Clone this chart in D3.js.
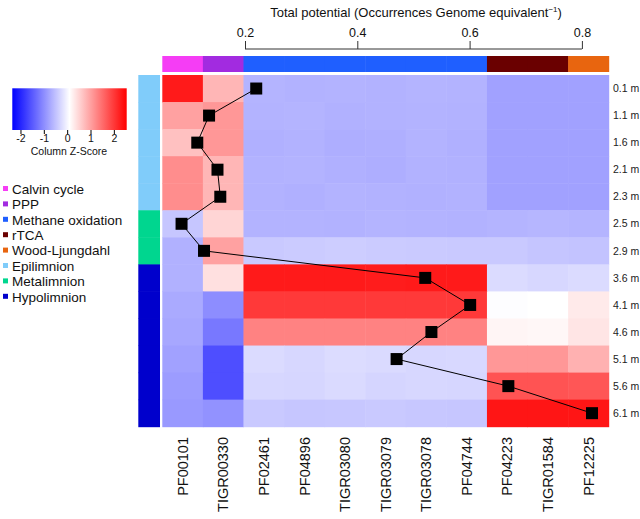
<!DOCTYPE html>
<html><head><meta charset="utf-8">
<script src="https://cdn.jsdelivr.net/npm/d3@7"></script>
<style>body{margin:0;background:#fff}svg{display:block;font-family:"Liberation Sans",Arial,sans-serif}</style>
</head><body>
<script>
const genes = ["PF00101","TIGR00330","PF02461","PF04896","TIGR03080","TIGR03079","TIGR03078","PF04744","PF04223","TIGR01584","PF12225"];
const pathwayOfGene = ["Calvin cycle","PPP","Methane oxidation","Methane oxidation","Methane oxidation","Methane oxidation","Methane oxidation","Methane oxidation","rTCA","rTCA","Wood-Ljungdahl"];
const depths = ["0.1 m","1.1 m","1.6 m","2.1 m","2.3 m","2.5 m","2.9 m","3.6 m","4.1 m","4.6 m","5.1 m","5.6 m","6.1 m"];
const layerOfDepth = ["Epilimnion","Epilimnion","Epilimnion","Epilimnion","Epilimnion","Metalimnion","Metalimnion","Hypolimnion","Hypolimnion","Hypolimnion","Hypolimnion","Hypolimnion","Hypolimnion"];
const pathways = ["Calvin cycle","PPP","Methane oxidation","rTCA","Wood-Ljungdahl"];
const pathwayColors = ["#f53df5","#a22be0","#1f5fff","#6a0000","#e8650f"];
const layers = ["Epilimnion","Metalimnion","Hypolimnion"];
const layerColors = ["#80ccfa","#00d68f","#0000cc"];
// Column Z-scores, one row per depth, one value per gene
const zscores = [
 [ 2.30, 0.80,-0.62,-0.64,-0.63,-0.64,-0.62,-0.63,-0.80,-0.80,-0.80],
 [ 1.00, 1.10,-0.63,-0.62,-0.65,-0.64,-0.63,-0.64,-0.80,-0.80,-0.80],
 [ 0.70, 1.10,-0.66,-0.64,-0.68,-0.67,-0.63,-0.66,-0.80,-0.80,-0.80],
 [ 1.20, 0.80,-0.64,-0.63,-0.66,-0.68,-0.64,-0.65,-0.80,-0.80,-0.80],
 [ 1.20, 0.80,-0.64,-0.66,-0.63,-0.64,-0.65,-0.64,-0.80,-0.80,-0.80],
 [-0.45, 0.50,-0.63,-0.63,-0.64,-0.62,-0.63,-0.64,-0.62,-0.60,-0.62],
 [-0.65, 1.00,-0.42,-0.40,-0.38,-0.40,-0.41,-0.42,-0.42,-0.46,-0.48],
 [-0.65, 0.40, 2.30, 2.30, 2.30, 2.28, 2.30, 2.30,-0.25,-0.28,-0.25],
 [-0.72,-1.00, 2.00, 2.00, 2.00, 2.00, 2.00, 2.00, 0.08, 0.10, 0.30],
 [-0.75,-1.20, 1.30, 1.30, 1.30, 1.30, 1.30, 1.30, 0.20, 0.18, 0.35],
 [-0.80,-1.60,-0.25,-0.28,-0.24,-0.26,-0.28,-0.27, 1.10, 1.10, 0.85],
 [-0.85,-1.60,-0.28,-0.29,-0.26,-0.30,-0.28,-0.29, 1.75, 1.75, 1.72],
 [-0.88,-0.95,-0.42,-0.45,-0.44,-0.42,-0.44,-0.45, 2.35, 2.35, 2.35]
];
const totalPotential = [0.220,0.136,0.115,0.151,0.156,0.087,0.127,0.521,0.601,0.532,0.470,0.669,0.818];
const axisTicks = [0.2,0.4,0.6,0.8];
const keyTicks = [-2,-1,0,1,2];

const W=640,H=519;
const svg=d3.select("body").append("svg").attr("width",W).attr("height",H);

const x=d3.scaleBand().domain(genes).range([162.3,608.7]).padding(0);
const y=d3.scaleBand().domain(depths).range([75,426.7]).padding(0);
const zMin=-2.35,zMid=0.1,zMax=2.55;
const color=d3.scaleLinear().domain([zMin,zMid,zMax]).range(["#0000ff","#ffffff","#ff0000"]).clamp(true);
const pColor=d3.scaleOrdinal().domain(pathways).range(pathwayColors);
const lColor=d3.scaleOrdinal().domain(layers).range(layerColors);
const xv=d3.scaleLinear().domain([0,0.8]).range([132.7,581.9]);

// heatmap cells
const cells=[];
zscores.forEach((row,i)=>row.forEach((v,j)=>cells.push({d:depths[i],g:genes[j],v})));
svg.append("g").selectAll("rect").data(cells).join("rect")
 .attr("x",c=>x(c.g)).attr("y",c=>y(c.d))
 .attr("width",x.bandwidth()+0.5).attr("height",y.bandwidth()+0.5)
 .attr("fill",c=>color(c.v));

// top pathway bar
svg.append("g").selectAll("rect").data(genes).join("rect")
 .attr("x",g=>x(g)).attr("y",56).attr("width",x.bandwidth()+0.5).attr("height",16)
 .attr("fill",(g,i)=>pColor(pathwayOfGene[i]));
// side layer bar
svg.append("g").selectAll("rect").data(depths).join("rect")
 .attr("x",138.3).attr("y",d=>y(d)).attr("width",21.7).attr("height",y.bandwidth()+0.5)
 .attr("fill",(d,i)=>lColor(layerOfDepth[i]));

// depth labels
svg.append("g").selectAll("text").data(depths).join("text")
 .attr("x",613).attr("y",d=>y(d)+y.bandwidth()/2).attr("dy","0.35em")
 .attr("font-size",10.5).attr("fill","#222").text(d=>d);
// gene labels
svg.append("g").selectAll("text").data(genes).join("text")
 .attr("transform",g=>`translate(${x(g)+x.bandwidth()/2},437) rotate(-90)`)
 .attr("dy","0.36em").attr("text-anchor","end").attr("font-size",14.5).attr("fill","#111").text(g=>g);

// top axis
const ax=svg.append("g").attr("transform","translate(0,49)")
 .call(d3.axisTop(xv).tickValues(axisTicks).tickFormat(d3.format(".1f")).tickSizeOuter(0).tickSizeInner(8).tickPadding(4));
ax.select(".domain").attr("d",`M${xv(0.2)},0H${xv(0.8)}`).attr("stroke","#333");
ax.selectAll(".tick line").attr("stroke","#333");
ax.selectAll("text").attr("font-size",12.5).attr("fill","#111").attr("font-family","Liberation Sans, Arial, sans-serif");
const t=svg.append("text").attr("x",416).attr("y",17).attr("text-anchor","middle").attr("font-size",13).attr("fill","#111");
t.append("tspan").text("Total potential (Occurrences Genome equivalent");
t.append("tspan").attr("font-size",8).attr("dy",-5).text("−1");
t.append("tspan").attr("dy",5).text(")");

// line + points
const pts=depths.map((d,i)=>({x:xv(totalPotential[i]),y:y(d)+y.bandwidth()/2}));
svg.append("path").datum(pts).attr("d",d3.line().x(p=>p.x).y(p=>p.y)).attr("fill","none").attr("stroke","#000").attr("stroke-width",1);
svg.append("g").selectAll("rect").data(pts).join("rect")
 .attr("x",p=>p.x-6).attr("y",p=>p.y-6).attr("width",12).attr("height",12).attr("fill","#000");

// color key
const defs=svg.append("defs");
const grad=defs.append("linearGradient").attr("id","kg");
d3.range(0,1.0001,0.05).forEach(f=>grad.append("stop").attr("offset",f).attr("stop-color",color(zMin+f*(zMax-zMin))));
const kx=d3.scaleLinear().domain([zMin,zMax]).range([12.3,126.7]);
svg.append("rect").attr("x",12.3).attr("y",88.3).attr("width",114.4).attr("height",41.7).attr("fill","url(#kg)");
const kg=svg.append("g").attr("transform","translate(0,130)").call(d3.axisBottom(kx).tickValues(keyTicks).tickSizeInner(4).tickSizeOuter(0).tickPadding(1).tickFormat(d=>String(d)));
kg.select(".domain").remove();
kg.selectAll("text").attr("font-size",10.5).attr("fill","#111").attr("font-family","Liberation Sans, Arial, sans-serif");
svg.append("text").attr("x",69).attr("y",155).attr("text-anchor","middle").attr("font-size",10.5).attr("fill","#111").text("Column Z-Score");

// legend
const legItems=pathways.map((p,i)=>({label:p,c:pathwayColors[i]})).concat(layers.map((l,i)=>({label:l,c:layerColors[i]})));
const lg=svg.append("g").selectAll("g").data(legItems).join("g").attr("transform",(d,i)=>`translate(0,${189+i*15.4})`);
lg.append("rect").attr("x",3).attr("y",-3).attr("width",5).attr("height",5).attr("fill",d=>d.c);
lg.append("text").attr("x",12).attr("y",0).attr("dy","0.35em").attr("font-size",13.5).attr("fill","#111").text(d=>d.label);
</script>
</body></html>
